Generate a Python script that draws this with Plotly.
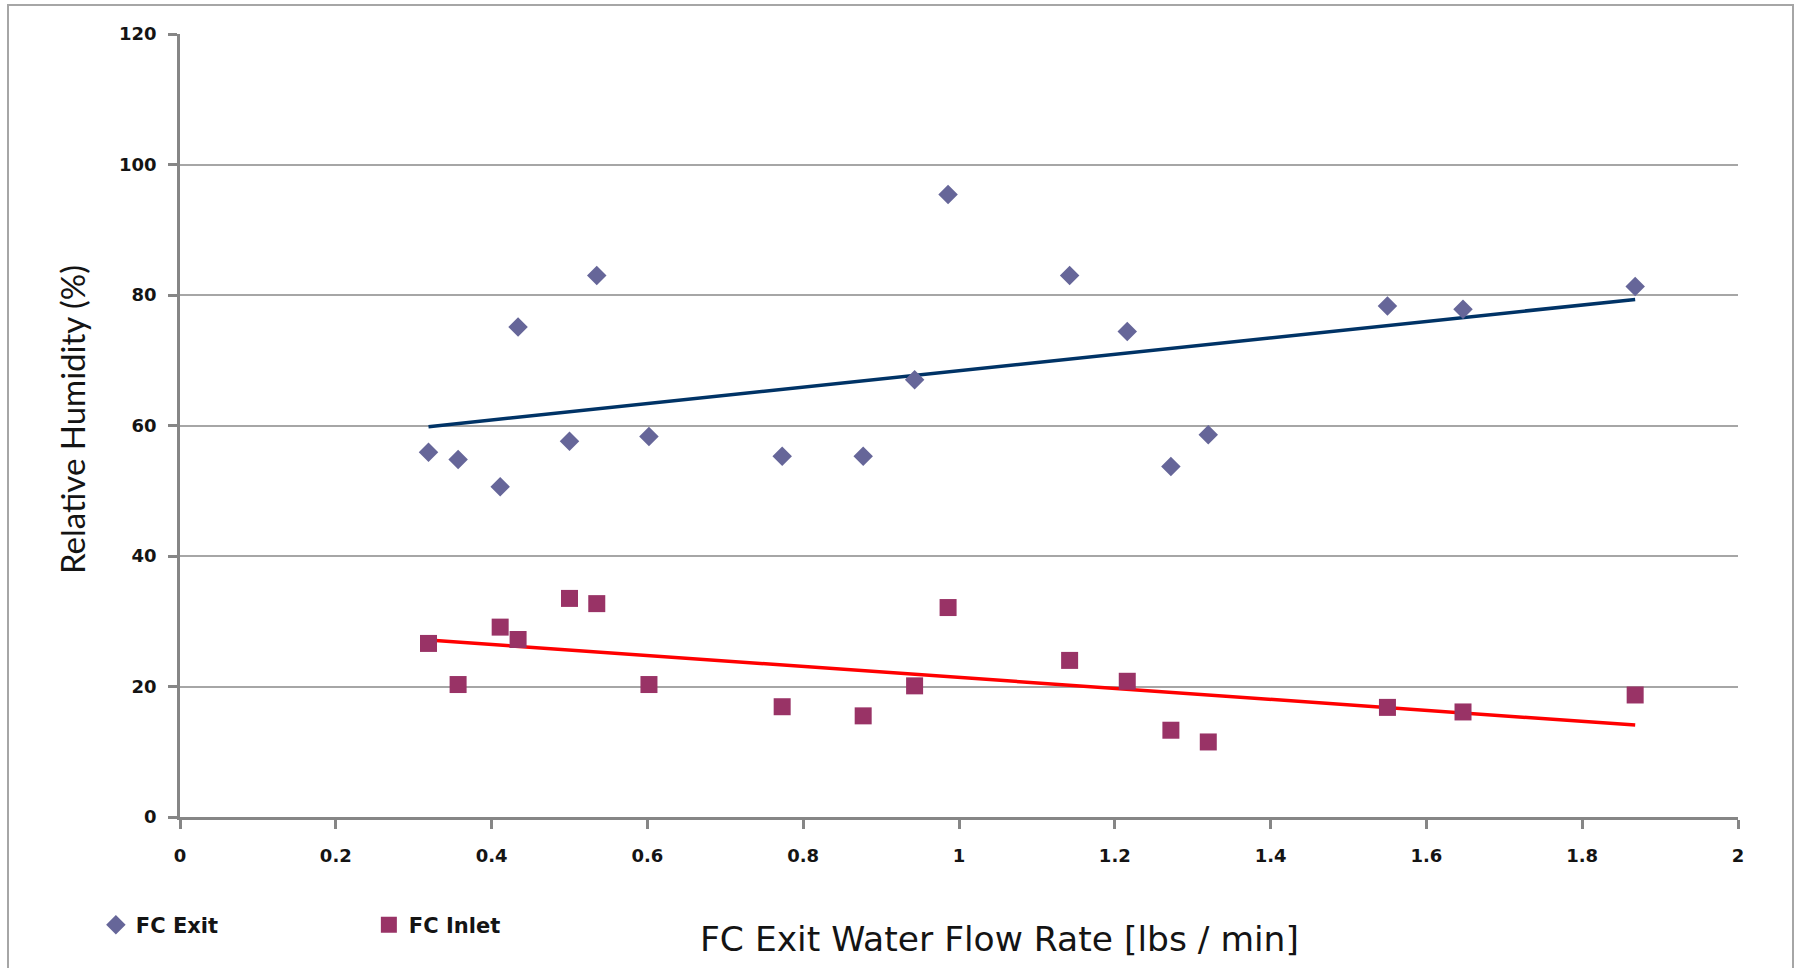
import numpy as np
import plotly.graph_objects as go

# Data
flow_rate = [0.319, 0.357, 0.411, 0.434, 0.500, 0.535, 0.602, 0.773, 0.877, 0.943,
             0.986, 1.142, 1.216, 1.272, 1.320, 1.550, 1.647, 1.868]
fc_exit = [55.9, 54.8, 50.6, 75.1, 57.6, 83.0, 58.3, 55.3, 55.3, 67.0,
           95.4, 83.0, 74.4, 53.7, 58.6, 78.3, 77.8, 81.3]
fc_inlet = [26.6, 20.3, 29.1, 27.2, 33.5, 32.7, 20.3, 16.9, 15.5, 20.1,
            32.1, 24.0, 20.8, 13.3, 11.5, 16.8, 16.1, 18.7]

x_ticks = [0, 0.2, 0.4, 0.6, 0.8, 1, 1.2, 1.4, 1.6, 1.8, 2]
x_tick_text = ["0", "0.2", "0.4", "0.6", "0.8", "1", "1.2", "1.4", "1.6", "1.8", "2"]
y_ticks = [0, 20, 40, 60, 80, 100, 120]

EXIT_COLOR = "#666699"
INLET_COLOR = "#993366"
EXIT_TREND = "#003366"
INLET_TREND = "#FF0000"
TICK_FONT = "DejaVu Sans"
TEXT_COLOR = "#141414"

# plot-area pixel geometry
W, H = 1797, 968
L, R, T, B = 180, 59, 34, 151
pw, ph = W - L - R, H - T - B
def px(x):
    return (x - L) / pw
def py(y):
    return ((H - B) - y) / ph

x_arr = np.array(flow_rate)
xline = np.array([x_arr.min(), x_arr.max()])
pe = np.polyfit(x_arr, np.array(fc_exit), 1)
pi = np.polyfit(x_arr, np.array(fc_inlet), 1)

fig = go.Figure()
fig.add_trace(go.Scatter(x=xline, y=np.polyval(pe, xline), mode="lines",
                         line=dict(color=EXIT_TREND, width=3.5), showlegend=False,
                         hoverinfo="skip"))
fig.add_trace(go.Scatter(x=xline, y=np.polyval(pi, xline), mode="lines",
                         line=dict(color=INLET_TREND, width=3.5), showlegend=False,
                         hoverinfo="skip"))
fig.add_trace(go.Scatter(x=flow_rate, y=fc_exit, mode="markers", name="FC Exit",
                         marker=dict(symbol="diamond", size=15, color=EXIT_COLOR)))
fig.add_trace(go.Scatter(x=flow_rate, y=fc_inlet, mode="markers", name="FC Inlet",
                         marker=dict(symbol="square", size=17, color=INLET_COLOR)))

fig.update_layout(
    width=W, height=H,
    margin=dict(l=L, r=R, t=T, b=B),
    paper_bgcolor="white", plot_bgcolor="white",
    font=dict(family=TICK_FONT, color=TEXT_COLOR),
    xaxis=dict(range=[0, 2], tickmode="array", tickvals=x_ticks, ticktext=x_tick_text,
               showgrid=False, zeroline=False, showline=True, linecolor="#868686",
               linewidth=2.5, ticks="outside", ticklen=9, tickwidth=2.5, tickcolor="#868686",
               ticklabelstandoff=12,
               tickfont=dict(family=TICK_FONT, size=18, color=TEXT_COLOR, weight="bold")),
    yaxis=dict(range=[0, 120], tickmode="array", tickvals=y_ticks,
               showgrid=True, gridcolor="#A6A6A6", gridwidth=1.5, zeroline=False,
               showline=True, linecolor="#868686", linewidth=2.5, ticks="outside",
               ticklen=9, tickwidth=2.5, tickcolor="#868686", ticklabelstandoff=8,
               tickfont=dict(family=TICK_FONT, size=18, color=TEXT_COLOR, weight="bold")),
    legend=dict(orientation="h", x=-0.054, xanchor="left", y=py(925), yanchor="middle",
                entrywidth=228, entrywidthmode="pixels",
                font=dict(family=TICK_FONT, size=21, color=TEXT_COLOR, weight="bold"),
                bgcolor="rgba(0,0,0,0)"),
    showlegend=True,
    annotations=[
        dict(text="Relative Humidity (%)", x=px(72), y=py(420), xref="paper", yref="paper",
             xanchor="center", yanchor="middle", showarrow=False, textangle=-90,
             font=dict(family="Lato", size=33, color=TEXT_COLOR)),
        dict(text="FC Exit Water Flow Rate [lbs / min]", x=px(999), y=py(939),
             xref="paper", yref="paper", xanchor="center", yanchor="middle",
             showarrow=False,
             font=dict(family="DejaVu Sans", size=34.5, color=TEXT_COLOR)),
    ],
    shapes=[dict(type="rect", xref="paper", yref="paper",
                 x0=px(8), x1=px(1793), y0=py(990), y1=py(5),
                 line=dict(color="#A6A6A6", width=2))],
)

fig.write_html("out.html")
